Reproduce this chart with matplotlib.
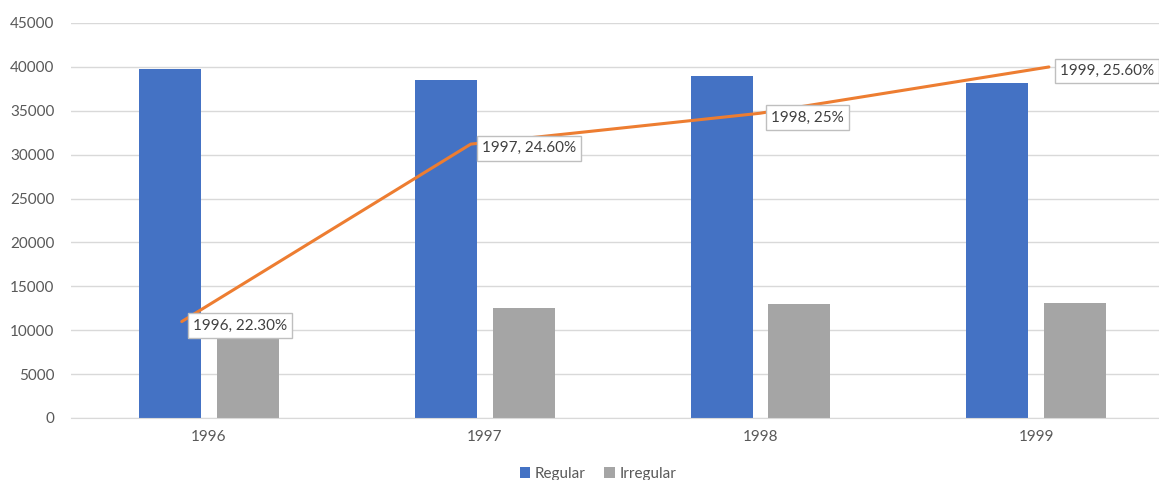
import numpy as np
import matplotlib.pyplot as plt

years = [1996, 1997, 1998, 1999]
regular = [39800, 38500, 38950, 38200]
irregular = [11420, 12550, 12980, 13150]
irregular_pct = [22.3, 24.6, 25.0, 25.6]
pct_labels = ["22.30%", "24.60%", "25%", "25.60%"]

BLUE = "#4472C4"
GRAY = "#A5A5A5"
ORANGE = "#ED7D31"
TEXT = "#595959"

plt.rcParams["font.family"] = ["Lato", "DejaVu Sans"]

fig = plt.figure(figsize=(11.59, 4.8), dpi=100)
pos = [0.0613, 0.1292, 0.9517, 0.8229]
ax = fig.add_axes(pos)

x = np.arange(len(years))
w = 0.225
ax.bar(x - 0.141, regular, w, color=BLUE, label="Regular", zorder=2)
ax.bar(x + 0.141, irregular, w, color=GRAY, label="Irregular", zorder=2)

ax.set_xlim(-0.5, 3.5)
ax.set_ylim(0, 45000)
ax.set_yticks(range(0, 45001, 5000))
ax.set_xticks(x)
ax.set_xticklabels([str(y) for y in years])
ax.grid(axis="y", color="#D9D9D9", linewidth=1, zorder=0)
ax.set_axisbelow(True)
for side in ["top", "right", "left"]:
    ax.spines[side].set_visible(False)
ax.spines["bottom"].set_color("#D9D9D9")
ax.tick_params(axis="both", length=0, labelsize=11, labelcolor=TEXT)
ax.tick_params(axis="y", pad=12)
ax.tick_params(axis="x", pad=9)

# share of irregular, drawn on its own hidden axes
ax2 = fig.add_axes(pos, frameon=False)
ax2.set_xlim(1995.617, 1999.433)
ax2.set_ylim(21.05, 26.17)
ax2.axis("off")
ax2.plot(years, irregular_pct, color=ORANGE, linewidth=2.2, solid_capstyle="round", zorder=3)
for yr, v, lab in zip(years, irregular_pct, pct_labels):
    ax2.annotate(f"{yr}, {lab}", (yr, v), xytext=(8, -3), textcoords="offset points",
                 ha="left", va="center", fontsize=11, color="#404040", zorder=4,
                 bbox=dict(boxstyle="square,pad=0.35", fc="white", ec="#BFBFBF", lw=1))

fig.legend(loc="center", bbox_to_anchor=(598 / 1159, 1 - 474 / 480), ncol=2,
           frameon=False, fontsize=11, labelcolor=TEXT, handlelength=0.7,
           handleheight=0.7, handletextpad=0.3, columnspacing=1.2)

fig.savefig("out.png", dpi=100)
